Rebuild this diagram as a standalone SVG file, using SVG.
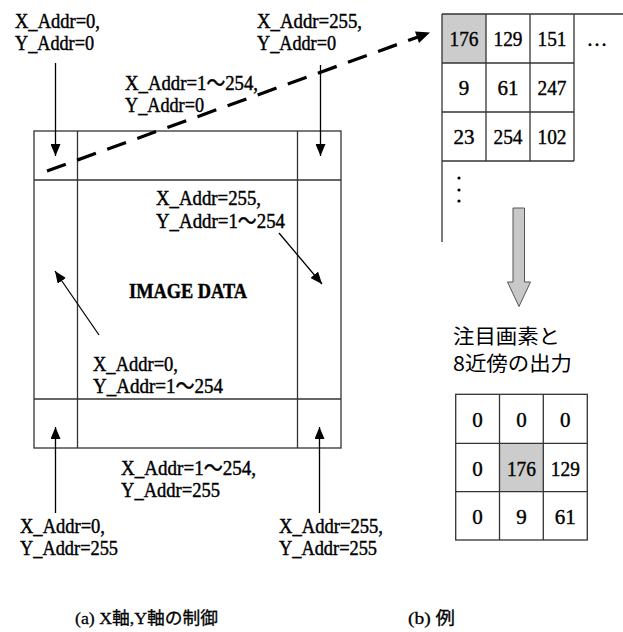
<svg xmlns="http://www.w3.org/2000/svg" width="623" height="632" viewBox="0 0 623 632">
<style>
.ln{stroke:#333;stroke-width:1.3;fill:none}
.ar{stroke:#000;stroke-width:1.3;fill:none}
.t{font-family:"Liberation Serif","Noto Sans CJK JP",serif;font-size:21px;fill:#000;stroke:#000;stroke-width:0.45}
.n{font-family:"Liberation Serif",serif;font-size:21px;fill:#000;stroke:#000;stroke-width:0.4;text-anchor:middle}
.j{font-family:"Noto Sans CJK JP",sans-serif;font-size:20px;fill:#000}
.c{font-family:"Liberation Serif","Noto Sans CJK JP",serif;font-size:17px;fill:#000;stroke:#000;stroke-width:0.3}
</style>
<defs>
<marker id="ah" viewBox="0 0 12 10" refX="12" refY="5" markerWidth="12" markerHeight="10" markerUnits="userSpaceOnUse" orient="auto">
<path d="M0,0 L12,5 L0,10 z" fill="#000"/>
</marker>
</defs>
<g id="image-frame">
<rect class="ln" x="34" y="131" width="307" height="317" fill="#fff"/>
<line class="ln" x1="77.5" y1="131" x2="77.5" y2="448"/>
<line class="ln" x1="297.5" y1="131" x2="297.5" y2="448"/>
<line class="ln" x1="34" y1="180" x2="341" y2="180"/>
<line class="ln" x1="34" y1="399" x2="341" y2="399"/>
<text class="t" x="129" y="298" textLength="118" lengthAdjust="spacingAndGlyphs" font-weight="bold">IMAGE DATA</text>
</g>
<g id="labels">
<text class="t" x="15" y="28" textLength="85" lengthAdjust="spacingAndGlyphs">X_Addr=0,</text>
<text class="t" x="15" y="50" textLength="79" lengthAdjust="spacingAndGlyphs">Y_Addr=0</text>
<text class="t" x="257" y="28" textLength="105" lengthAdjust="spacingAndGlyphs">X_Addr=255,</text>
<text class="t" x="257" y="50" textLength="79" lengthAdjust="spacingAndGlyphs">Y_Addr=0</text>
<text class="t" x="125" y="90" textLength="133" lengthAdjust="spacingAndGlyphs">X_Addr=1～254,</text>
<text class="t" x="125" y="112" textLength="79" lengthAdjust="spacingAndGlyphs">Y_Addr=0</text>
<text class="t" x="156" y="205" textLength="105" lengthAdjust="spacingAndGlyphs">X_Addr=255,</text>
<text class="t" x="156" y="228" textLength="129" lengthAdjust="spacingAndGlyphs">Y_Addr=1～254</text>
<text class="t" x="93" y="371" textLength="85" lengthAdjust="spacingAndGlyphs">X_Addr=0,</text>
<text class="t" x="93" y="393" textLength="130" lengthAdjust="spacingAndGlyphs">Y_Addr=1～254</text>
<text class="t" x="121" y="475" textLength="135" lengthAdjust="spacingAndGlyphs">X_Addr=1～254,</text>
<text class="t" x="121" y="497" textLength="99" lengthAdjust="spacingAndGlyphs">Y_Addr=255</text>
<text class="t" x="20" y="533" textLength="85" lengthAdjust="spacingAndGlyphs">X_Addr=0,</text>
<text class="t" x="20" y="555" textLength="98" lengthAdjust="spacingAndGlyphs">Y_Addr=255</text>
<text class="t" x="279" y="533" textLength="104" lengthAdjust="spacingAndGlyphs">X_Addr=255,</text>
<text class="t" x="279" y="555" textLength="98" lengthAdjust="spacingAndGlyphs">Y_Addr=255</text>
</g>
<g id="connectors">
<line class="ar" x1="55.5" y1="63" x2="55.5" y2="156" marker-end="url(#ah)"/>
<line class="ar" x1="320.5" y1="65" x2="320.5" y2="156" marker-end="url(#ah)"/>
<line class="ar" x1="55.5" y1="513" x2="55.5" y2="427" marker-end="url(#ah)"/>
<line class="ar" x1="319.5" y1="513" x2="319.5" y2="427" marker-end="url(#ah)"/>
<line class="ar" x1="279" y1="233" x2="322" y2="284" marker-end="url(#ah)"/>
<line class="ar" x1="99" y1="335" x2="55" y2="271" marker-end="url(#ah)"/>
<line x1="47" y1="171" x2="418" y2="37" stroke="#000" stroke-width="3.2" stroke-dasharray="20,12"/>
<path d="M430,32.5 L415,31.5 L419,43 z" fill="#000"/>
<path d="M513,208 H524.5 V282 H530.5 L519,306.5 L507.5,282 H513 z" fill="#c8c8c8" stroke="#555" stroke-width="1"/>
</g>
<g id="example-grid">
<rect x="442" y="14" width="44" height="49" fill="#cccccc"/>
<line class="ln" x1="442" y1="14" x2="623" y2="14"/>
<line class="ln" x1="442" y1="14" x2="442" y2="242"/>
<line class="ln" x1="486" y1="14" x2="486" y2="161"/>
<line class="ln" x1="530" y1="14" x2="530" y2="161"/>
<line class="ln" x1="574" y1="14" x2="574" y2="161"/>
<line class="ln" x1="442" y1="63" x2="574" y2="63"/>
<line class="ln" x1="442" y1="112" x2="574" y2="112"/>
<line class="ln" x1="442" y1="161" x2="574" y2="161"/>
<text class="n" x="464" y="46" textLength="29" lengthAdjust="spacingAndGlyphs">176</text>
<text class="n" x="508" y="46" textLength="29" lengthAdjust="spacingAndGlyphs">129</text>
<text class="n" x="552" y="46" textLength="29" lengthAdjust="spacingAndGlyphs">151</text>
<text class="n" x="464" y="95">9</text>
<text class="n" x="508" y="95">61</text>
<text class="n" x="552" y="95" textLength="29" lengthAdjust="spacingAndGlyphs">247</text>
<text class="n" x="464" y="144">23</text>
<text class="n" x="508" y="144" textLength="29" lengthAdjust="spacingAndGlyphs">254</text>
<text class="n" x="552" y="144" textLength="29" lengthAdjust="spacingAndGlyphs">102</text>
<text class="n" x="597" y="46">…</text>
<circle cx="459" cy="178" r="1.6" fill="#000"/>
<circle cx="459" cy="190" r="1.6" fill="#000"/>
<circle cx="459" cy="201" r="1.6" fill="#000"/>
</g>
<g id="output-label">
<text class="j" x="453" y="344" textLength="107" lengthAdjust="spacingAndGlyphs">注目画素と</text>
<text class="j" x="453" y="371" textLength="119" lengthAdjust="spacingAndGlyphs">8近傍の出力</text>
</g>
<g id="output-grid">
<rect x="499.5" y="443.3" width="44" height="48.4" fill="#cccccc"/>
<rect class="ln" x="455.7" y="394.3" width="131.6" height="145.7"/>
<line class="ln" x1="499.5" y1="394.3" x2="499.5" y2="540"/>
<line class="ln" x1="543.3" y1="394.3" x2="543.3" y2="540"/>
<line class="ln" x1="455.7" y1="443.3" x2="587.3" y2="443.3"/>
<line class="ln" x1="455.7" y1="491.7" x2="587.3" y2="491.7"/>
<text class="n" x="477.6" y="427">0</text>
<text class="n" x="521.4" y="427">0</text>
<text class="n" x="565.3" y="427">0</text>
<text class="n" x="477.6" y="476">0</text>
<text class="n" x="521.4" y="476" textLength="29" lengthAdjust="spacingAndGlyphs">176</text>
<text class="n" x="565.3" y="476" textLength="29" lengthAdjust="spacingAndGlyphs">129</text>
<text class="n" x="477.6" y="524">0</text>
<text class="n" x="521.4" y="524">9</text>
<text class="n" x="565.3" y="524">61</text>
</g>
<g id="captions">
<text class="c" x="75" y="624" textLength="143" lengthAdjust="spacingAndGlyphs">(a) X軸,Y軸の制御</text>
<text class="c" x="408" y="624" textLength="47" lengthAdjust="spacingAndGlyphs">(b) 例</text>
</g>
</svg>
